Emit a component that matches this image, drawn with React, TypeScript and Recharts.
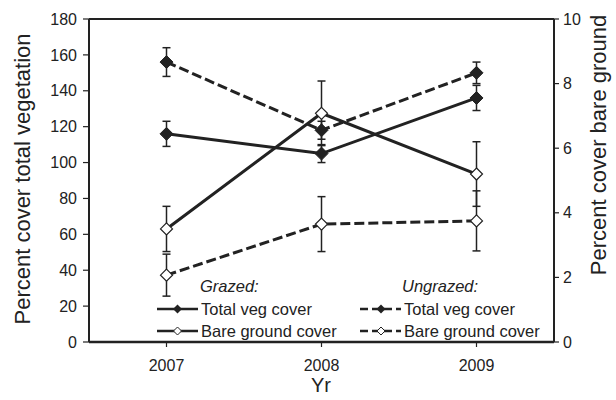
import React from 'react';
import {
  LineChart, Line, XAxis, YAxis, ErrorBar, ReferenceLine, Legend, Label,
} from 'recharts';

const years = ['2007', '2008', '2009'];
const grazedVeg = [116, 105, 136];
const grazedVegErr = [7, 5, 7];
const ungrazedVeg = [156, 118, 150];
const ungrazedVegErr = [8, 5, 6];
const grazedBare = [3.5, 7.08, 5.2];
const grazedBareErr = [0.7, 1.0, 1.0];
const ungrazedBare = [2.07, 3.65, 3.75];
const ungrazedBareErr = [0.65, 0.85, 0.93];
const leftTicks = [0, 20, 40, 60, 80, 100, 120, 140, 160, 180];
const rightTicks = [0, 2, 4, 6, 8, 10];

const data = years.map((y, i) => ({
  year: y,
  gv: grazedVeg[i], gvE: grazedVegErr[i],
  uv: ungrazedVeg[i], uvE: ungrazedVegErr[i],
  gb: grazedBare[i], gbE: grazedBareErr[i],
  ub: ungrazedBare[i], ubE: ungrazedBareErr[i],
}));

const INK = '#222';
const FONT = '"Liberation Sans", Arial, sans-serif';

const diamondPts = (cx: number, cy: number, r: number) =>
  `${cx},${cy - r} ${cx + r},${cy} ${cx},${cy + r} ${cx - r},${cy}`;

const FilledDot = (p: any) => {
  if (p.cx == null || p.cy == null) return <g key={p.key ?? p.index} />;
  return <polygon key={p.key ?? `f${p.index}`} points={diamondPts(p.cx, p.cy, 6.5)} fill={INK} stroke={INK} strokeWidth={1} />;
};
const OpenDot = (p: any) => {
  if (p.cx == null || p.cy == null) return <g key={p.key ?? p.index} />;
  return <polygon key={p.key ?? `o${p.index}`} points={diamondPts(p.cx, p.cy, 6)} fill="#fff" stroke={INK} strokeWidth={1.2} />;
};

const legendText = { fontFamily: FONT, fontSize: 16.5, fill: INK } as const;

const renderLegend = () => (
  <svg width={616} height={400} style={{ position: 'absolute', left: 0, top: 0 }}>
    <text x={200} y={292} style={{ ...legendText, fontStyle: 'italic' }}>Grazed:</text>
    <line x1={157} x2={198} y1={309} y2={309} stroke={INK} strokeWidth={2.5} />
    <polygon points={diamondPts(177.5, 309, 4.5)} fill={INK} />
    <text x={201} y={309} dominantBaseline="central" style={legendText}>Total veg cover</text>
    <line x1={157} x2={198} y1={331} y2={331} stroke={INK} strokeWidth={2.5} />
    <polygon points={diamondPts(177.5, 331, 4)} fill="#fff" stroke={INK} strokeWidth={1} />
    <text x={201} y={331} dominantBaseline="central" style={legendText}>Bare ground cover</text>

    <text x={402} y={292} style={{ ...legendText, fontStyle: 'italic' }}>Ungrazed:</text>
    <line x1={360} x2={401} y1={309} y2={309} stroke={INK} strokeWidth={2.5} strokeDasharray="8 4" />
    <polygon points={diamondPts(381, 309, 4.5)} fill={INK} />
    <text x={404} y={309} dominantBaseline="central" style={legendText}>Total veg cover</text>
    <line x1={360} x2={401} y1={331} y2={331} stroke={INK} strokeWidth={2.5} strokeDasharray="8 4" />
    <polygon points={diamondPts(381, 331, 4)} fill="#fff" stroke={INK} strokeWidth={1} />
    <text x={404} y={331} dominantBaseline="central" style={legendText}>Bare ground cover</text>
  </svg>
);

const axisTitle = { fontFamily: FONT, fontSize: 22, fill: INK } as const;

const LeftTitle = () => (
  <text x={22} y={179} transform="rotate(-90 22 179)" textAnchor="middle" dominantBaseline="central" style={axisTitle}>
    Percent cover total vegetation
  </text>
);
const RightTitle = () => (
  <text x={598} y={145} transform="rotate(-90 598 145)" textAnchor="middle" dominantBaseline="central" style={axisTitle}>
    Percent cover bare ground
  </text>
);
const BottomTitle = () => (
  <text x={321} y={392} textAnchor="middle" style={{ ...axisTitle, fontSize: 20 }}>Yr</text>
);

const tickStyle = { fill: INK, fontSize: 16, fontFamily: FONT };

export default function App() {
  return (
    <div style={{ position: 'absolute', left: 0, top: 0, width: 616, height: 400, background: '#fff' }}>
      <LineChart width={616} height={400} data={data} margin={{ top: 19, right: 0, left: 0, bottom: 0 }}>
        <XAxis
          dataKey="year"
          height={58}
          padding={{ left: 77.5, right: 77.5 }}
          tickSize={5}
          tickMargin={13}
          axisLine={{ stroke: INK, strokeWidth: 2.5 }}
          tickLine={{ stroke: INK, strokeWidth: 1.2 }}
          tick={tickStyle}
        >
          <Label content={<BottomTitle />} />
        </XAxis>
        <YAxis
          yAxisId="left"
          width={89}
          domain={[0, 180]}
          ticks={leftTicks}
          interval={0}
          tickSize={6}
          tickMargin={6}
          axisLine={{ stroke: INK, strokeWidth: 2 }}
          tickLine={{ stroke: INK, strokeWidth: 1.2 }}
          tick={tickStyle}
        >
          <Label content={<LeftTitle />} />
        </YAxis>
        <YAxis
          yAxisId="right"
          orientation="right"
          width={62}
          domain={[0, 10]}
          ticks={rightTicks}
          interval={0}
          tickSize={5}
          tickMargin={4}
          axisLine={{ stroke: INK, strokeWidth: 2 }}
          tickLine={{ stroke: INK, strokeWidth: 1.2 }}
          tick={tickStyle}
        >
          <Label content={<RightTitle />} />
        </YAxis>
        <ReferenceLine yAxisId="left" y={180} stroke={INK} strokeWidth={2} />
        <Line yAxisId="left" dataKey="gv" stroke={INK} strokeWidth={3} dot={(p: any) => <FilledDot {...p} />} isAnimationActive={false}>
          <ErrorBar dataKey="gvE" direction="y" width={4} stroke={INK} strokeWidth={1.5} />
        </Line>
        <Line yAxisId="left" dataKey="uv" stroke={INK} strokeWidth={3} strokeDasharray="10 4" dot={(p: any) => <FilledDot {...p} />} isAnimationActive={false}>
          <ErrorBar dataKey="uvE" direction="y" width={4} stroke={INK} strokeWidth={1.5} />
        </Line>
        <Line yAxisId="right" dataKey="gb" stroke={INK} strokeWidth={3} dot={(p: any) => <OpenDot {...p} />} isAnimationActive={false}>
          <ErrorBar dataKey="gbE" direction="y" width={4} stroke={INK} strokeWidth={1.5} />
        </Line>
        <Line yAxisId="right" dataKey="ub" stroke={INK} strokeWidth={3} strokeDasharray="10 4" dot={(p: any) => <OpenDot {...p} />} isAnimationActive={false}>
          <ErrorBar dataKey="ubE" direction="y" width={4} stroke={INK} strokeWidth={1.5} />
        </Line>
        <Legend layout="vertical" align="center" verticalAlign="middle" content={renderLegend}
          wrapperStyle={{ position: 'absolute', left: 0, top: 0, width: 616, height: 400, pointerEvents: 'none' }} />
      </LineChart>
    </div>
  );
}
